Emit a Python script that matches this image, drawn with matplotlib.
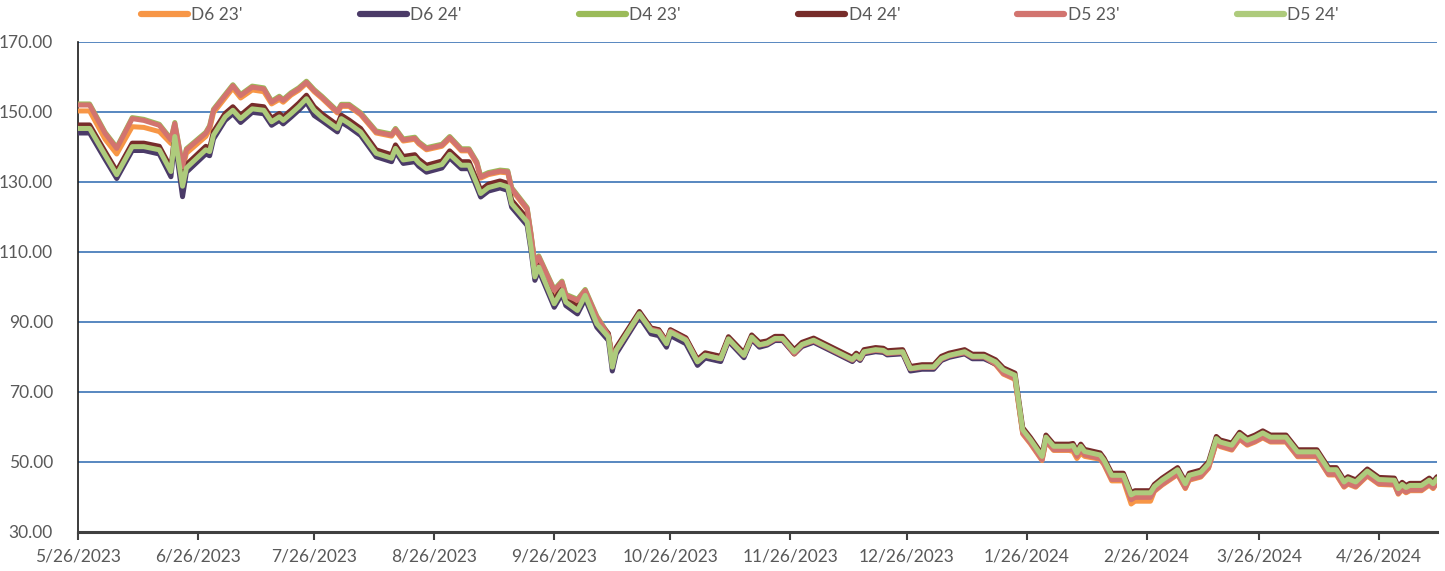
import matplotlib

matplotlib.use("Agg")
import matplotlib.pyplot as plt
import matplotlib.dates as mdates
from matplotlib.ticker import FixedLocator, FuncFormatter
import pandas as pd

plt.rcParams["font.family"] = ["Lato", "DejaVu Sans"]

START = "2023-05-26"

# trading days, as offsets in days from 5/26/2023
day_offsets = [
    0, 3, 7, 10, 14, 17, 21, 24, 25, 27, 28, 33, 34, 35, 38, 40, 42, 45, 48, 50,
    52, 53, 55, 57, 59, 61, 63, 67, 68, 70, 73, 77, 81, 82, 84, 87, 88,
    90, 94, 96, 99, 101, 103, 104, 106, 109, 111, 112, 116, 117, 118, 119, 123, 125, 126,
    129, 131, 134, 137, 138, 139, 145, 148, 150, 152, 153, 157, 160, 162, 166, 168, 172, 174, 176,
    178, 180, 182, 185, 187, 190, 200, 201, 202, 203, 206, 208, 209, 213, 215, 218, 221, 223,
    225, 227, 229, 231, 234, 237, 239, 242, 244, 246, 249, 250, 252, 256, 257, 258, 259, 260, 264,
    265, 267, 270, 272, 273, 277, 278, 280, 284, 286, 287, 290, 292, 294, 295, 298, 300, 302,
    304, 306, 308, 312, 315, 320, 323, 325, 327, 328, 330, 333, 336, 340, 341, 342, 343, 344,
    347, 349, 350, 351,
]

d6_23 = [
    150.3, 150.3, 142.2, 138.0, 145.8, 145.6, 144.4, 141.0, 145.8, 133.6, 138.2, 143.0, 145.0,
    149.8, 154.0, 156.8, 154.0, 156.3, 155.8, 152.3, 153.6, 152.8, 154.8, 156.2, 158.2, 155.8,
    153.9, 149.7, 151.6, 151.6, 149.2, 144.0, 143.1, 144.7, 141.7, 142.2, 140.9,
    139.2, 140.2, 142.4, 138.9, 138.9, 135.2, 131.1, 132.1, 132.8, 132.6, 127.8, 122.1, 114.7,
    106.2, 108.3, 98.7, 101.1, 97.3, 95.9, 98.7, 91.1, 85.9, 79.7, 81.6, 92.0, 87.7, 87.2, 84.1,
    87.2, 84.8, 78.6, 80.3, 79.3, 84.8, 80.3, 85.2, 83.2,
    83.6, 84.9, 84.9, 80.8, 83.2, 84.4, 78.9, 80.1, 79.2, 81.1, 81.7, 81.5, 80.8, 81.1, 76.4,
    76.8, 76.8, 79.2, 80.1, 80.6, 81.0, 79.8, 79.8, 77.8, 75.1, 73.6, 58.0, 55.2, 50.4, 55.9,
    53.3, 53.3, 53.0, 51.0, 52.5, 51.6, 50.8,
    49.2, 44.6, 44.6, 38.0, 38.8, 38.8, 41.6, 43.4, 46.4, 42.4, 44.8, 45.7, 48.2, 55.4, 54.4,
    53.4, 56.5, 54.8, 55.7, 56.9, 55.7, 55.7, 51.5, 51.5, 46.3, 46.3, 42.8, 43.7, 42.8, 46.0,
    43.6, 43.4, 40.8, 42.1, 41.2, 41.8, 41.8, 43.4, 42.4, 44.0,
]

d6_24 = [
    144.0, 144.0, 136.5, 131.0, 139.0, 139.0, 138.0, 131.5, 142.0, 125.8, 132.8, 138.0, 137.5,
    142.3, 147.6, 149.5, 147.0, 149.9, 149.5, 146.2, 147.6, 146.6, 148.5, 150.5, 152.8, 149.0,
    147.5, 144.3, 147.1, 145.7, 143.3, 137.2, 135.8, 138.6, 135.3, 135.8, 134.5,
    132.8, 134.0, 136.9, 133.8, 133.8, 128.5, 125.7, 127.4, 128.3, 127.6, 122.8, 117.6, 110.4,
    101.9, 104.7, 94.2, 98.0, 94.7, 92.3, 96.6, 88.5, 84.7, 76.0, 80.9, 91.5, 86.6, 86.1, 82.8,
    86.1, 83.8, 77.6, 79.7, 78.7, 84.5, 79.8, 85.0, 82.8,
    83.4, 84.7, 84.7, 80.9, 83.0, 84.2, 78.7, 79.9, 79.0, 80.9, 81.5, 81.3, 80.6, 80.9, 76.0,
    76.5, 76.5, 79.0, 79.9, 80.4, 80.9, 79.5, 79.5, 78.0, 75.9, 74.5, 59.0, 56.2, 51.4, 56.9,
    54.3, 54.3, 54.5, 52.4, 54.3, 52.8, 51.8,
    50.3, 46.0, 46.0, 40.4, 41.0, 41.0, 42.8, 44.6, 47.6, 43.4, 46.0, 46.9, 49.3, 56.5, 55.5,
    54.6, 57.7, 56.0, 56.9, 58.1, 56.9, 56.9, 52.7, 52.7, 47.6, 47.6, 44.1, 45.0, 44.1, 47.2,
    44.8, 44.6, 42.2, 43.4, 42.5, 43.1, 43.1, 44.6, 43.6, 45.0,
]

d4_23 = [
    152.3, 152.3, 144.2, 139.9, 148.4, 147.9, 146.5, 142.3, 147.0, 134.7, 139.5, 144.2, 146.1,
    150.8, 155.0, 157.8, 155.0, 157.4, 156.9, 153.1, 154.5, 153.6, 155.5, 156.9, 158.8, 156.4,
    154.5, 150.3, 152.2, 152.2, 149.8, 144.6, 143.7, 145.3, 142.3, 142.8, 141.5,
    139.8, 140.8, 143.0, 139.5, 139.5, 135.8, 131.7, 132.7, 133.4, 133.2, 128.4, 122.7, 115.3,
    106.8, 108.9, 99.3, 101.7, 97.9, 96.5, 99.3, 91.7, 86.5, 80.3, 82.2, 92.5, 88.2, 87.7, 84.6,
    87.7, 85.3, 79.1, 80.8, 79.8, 85.3, 80.8, 85.7, 83.7,
    84.1, 85.4, 85.4, 81.3, 83.7, 84.9, 79.4, 80.6, 79.7, 81.6, 82.2, 82.0, 81.3, 81.6, 76.9,
    77.3, 77.3, 79.7, 80.6, 81.1, 81.5, 80.3, 80.3, 78.3, 75.6, 74.1, 58.5, 55.7, 50.9, 56.4,
    53.8, 53.8, 54.0, 51.9, 53.8, 52.3, 51.3,
    49.7, 45.3, 45.3, 39.5, 40.2, 40.2, 42.1, 43.9, 46.9, 42.9, 45.3, 46.2, 48.7, 55.9, 54.9,
    53.9, 57.0, 55.3, 56.2, 57.4, 56.2, 56.2, 52.0, 52.0, 46.8, 46.8, 43.3, 44.2, 43.3, 46.5,
    44.1, 43.9, 41.3, 42.6, 41.7, 42.3, 42.3, 43.9, 42.9, 44.5,
]

d4_24 = [
    146.3, 146.3, 138.7, 133.1, 141.1, 141.1, 140.2, 134.0, 143.8, 129.6, 135.0, 140.2, 139.7,
    144.4, 149.6, 151.5, 149.1, 151.9, 151.5, 148.2, 149.6, 148.6, 150.5, 152.5, 154.8, 151.5,
    149.5, 146.3, 149.1, 147.7, 145.3, 139.2, 137.8, 140.6, 137.3, 137.8, 136.5,
    134.8, 136.0, 138.9, 135.8, 135.8, 130.5, 127.7, 129.4, 130.3, 129.6, 124.8, 119.6, 112.4,
    103.9, 106.7, 96.2, 100.0, 96.7, 94.3, 98.6, 90.5, 86.7, 78.1, 82.7, 93.0, 88.3, 87.8, 84.5,
    87.8, 85.5, 79.3, 81.2, 80.2, 85.8, 81.2, 86.3, 84.2,
    84.6, 85.9, 85.9, 82.1, 84.2, 85.4, 79.9, 81.1, 80.2, 82.1, 82.7, 82.5, 81.8, 82.1, 77.3,
    77.8, 77.8, 80.2, 81.1, 81.6, 82.1, 80.8, 80.8, 79.2, 76.9, 75.4, 59.8, 57.0, 52.2, 57.7,
    55.1, 55.1, 55.3, 53.2, 55.1, 53.6, 52.6,
    51.1, 46.8, 46.8, 41.2, 41.8, 41.8, 43.6, 45.4, 48.4, 44.4, 46.8, 47.7, 50.1, 57.3, 56.3,
    55.4, 58.5, 56.8, 57.7, 58.9, 57.7, 57.7, 53.5, 53.5, 48.4, 48.4, 44.9, 45.8, 44.9, 48.0,
    45.6, 45.4, 43.0, 44.2, 43.3, 43.9, 43.9, 45.4, 44.4, 45.8,
]

d5_23 = [
    152.0, 152.0, 143.9, 139.6, 148.1, 147.6, 146.2, 142.0, 146.7, 134.4, 139.2, 143.9, 145.8,
    150.5, 154.7, 157.5, 154.7, 157.1, 156.6, 152.8, 154.2, 153.3, 155.2, 156.6, 158.5, 156.1,
    154.2, 150.0, 151.9, 151.9, 149.5, 144.3, 143.4, 145.0, 142.0, 142.5, 141.2,
    139.5, 140.5, 142.7, 139.2, 139.2, 135.5, 131.4, 132.4, 133.1, 132.9, 128.1, 122.4, 115.0,
    106.5, 108.6, 99.0, 101.4, 97.6, 96.2, 99.0, 91.4, 86.2, 80.0, 81.9, 92.2, 87.9, 87.4, 84.3,
    87.4, 85.0, 78.8, 80.5, 79.5, 85.0, 80.5, 85.4, 83.4,
    83.8, 85.1, 85.1, 81.0, 83.4, 84.6, 79.1, 80.3, 79.4, 81.3, 81.9, 81.7, 81.0, 81.3, 76.6,
    77.0, 77.0, 79.4, 80.3, 80.8, 81.2, 80.0, 80.0, 78.0, 75.3, 73.8, 58.2, 55.4, 50.6, 56.1,
    53.5, 53.5, 53.7, 51.6, 53.5, 52.0, 51.0,
    49.4, 45.0, 45.0, 39.2, 39.9, 39.9, 41.8, 43.6, 46.6, 42.6, 45.0, 45.9, 48.4, 55.6, 54.6,
    53.6, 56.7, 55.0, 55.9, 57.1, 55.9, 55.9, 51.7, 51.7, 46.5, 46.5, 43.0, 43.9, 43.0, 46.2,
    43.8, 43.6, 41.0, 42.3, 41.4, 42.0, 42.0, 43.6, 42.6, 44.2,
]

d5_24 = [
    145.3, 145.3, 137.7, 132.1, 140.1, 140.1, 139.2, 133.0, 143.0, 128.8, 134.0, 139.2, 138.7,
    143.4, 148.6, 150.5, 148.1, 150.9, 150.5, 147.2, 148.6, 147.6, 149.5, 151.5, 153.8, 150.5,
    148.5, 145.3, 148.1, 146.7, 144.3, 138.2, 136.8, 139.6, 136.3, 136.8, 135.5,
    133.8, 135.0, 137.9, 134.8, 134.8, 129.5, 126.7, 128.4, 129.3, 128.6, 123.8, 118.6, 111.4,
    102.9, 105.7, 95.2, 99.0, 95.7, 93.3, 97.6, 89.5, 85.7, 77.1, 81.9, 92.4, 87.6, 87.1, 83.8,
    87.1, 84.8, 78.6, 80.5, 79.5, 85.2, 80.5, 85.7, 83.5,
    84.0, 85.3, 85.3, 81.5, 83.6, 84.8, 79.3, 80.5, 79.6, 81.5, 82.1, 81.9, 81.2, 81.5, 76.7,
    77.2, 77.2, 79.6, 80.5, 81.0, 81.5, 80.2, 80.2, 78.6, 76.3, 74.8, 59.2, 56.4, 51.6, 57.1,
    54.5, 54.5, 54.7, 52.6, 54.5, 53.0, 52.0,
    50.5, 46.2, 46.2, 40.6, 41.2, 41.2, 43.0, 44.8, 47.8, 43.8, 46.2, 47.1, 49.5, 56.7, 55.7,
    54.8, 57.9, 56.2, 57.1, 58.3, 57.1, 57.1, 52.9, 52.9, 47.8, 47.8, 44.3, 45.2, 44.3, 47.4,
    45.0, 44.8, 42.4, 43.6, 42.7, 43.3, 43.3, 44.8, 43.8, 45.2,
]

series_names = ["D6 23'", "D6 24'", "D4 23'", "D4 24'", "D5 23'", "D5 24'"]
series_values = [d6_23, d6_24, d4_23, d4_24, d5_23, d5_24]
series_colors = ["#F79646", "#4B3B68", "#9BBB59", "#772C2A", "#D2746F", "#AECB7C"]

y_ticks = [30, 50, 70, 90, 110, 130, 150, 170]
# one tick on the 26th of each month, 5/26/2023 .. 4/26/2024
x_tick_dates = pd.date_range("2023-05-01", "2024-04-01", freq="MS") + pd.Timedelta(days=25)


def main():
    dates = pd.Timestamp(START) + pd.to_timedelta(day_offsets, unit="D")

    fig = plt.figure(figsize=(14.45, 5.71), dpi=100)
    ax = fig.add_axes([78 / 1445, 39 / 571, 1359 / 1445, 490 / 571])

    handles = []
    for name, vals, col in zip(series_names, series_values, series_colors):
        (ln,) = ax.plot(dates, vals, color=col, lw=3.6, label=name,
                        solid_joinstyle="round", solid_capstyle="round", zorder=3)
        handles.append(ln)

    ax.set_ylim(30, 170)
    ax.set_xlim(dates[0], dates[-1])
    ax.yaxis.set_major_locator(FixedLocator(y_ticks))
    ax.yaxis.set_major_formatter(FuncFormatter(lambda v, p: f"{v:.2f}"))
    ax.grid(axis="y", color="#4A7EBB", lw=1.3, zorder=1)
    ax.set_axisbelow(True)

    ax.xaxis.set_major_locator(FixedLocator(mdates.date2num(x_tick_dates)))
    ax.xaxis.set_major_formatter(FuncFormatter(
        lambda v, p: (lambda d: f"{d.month}/{d.day}/{d.year}")(mdates.num2date(v))))

    for s in ("top", "right"):
        ax.spines[s].set_visible(False)
    ax.spines["left"].set_color("#1a1a1a")
    ax.spines["left"].set_linewidth(1.2)
    ax.spines["bottom"].set_color("#404040")
    ax.spines["bottom"].set_linewidth(2.2)
    ax.spines["bottom"].set_zorder(4)

    ax.tick_params(axis="y", length=0, pad=18, labelsize=12.5, labelcolor="#595959")
    ax.tick_params(axis="x", length=6, width=1.5, color="#404040", pad=6,
                   labelsize=12.5, labelcolor="#595959")

    leg = fig.legend(handles=handles, loc="center", bbox_to_anchor=(0.512, 0.973), ncol=6,
                     frameon=False, fontsize=12.5, handlelength=2.7, handletextpad=0.2,
                     columnspacing=6.75, labelcolor="#595959")
    for h in leg.legend_handles:
        h.set_linewidth(4.5)

    fig.savefig("out.png", dpi=100)
    plt.close(fig)


if __name__ == "__main__":
    main()
